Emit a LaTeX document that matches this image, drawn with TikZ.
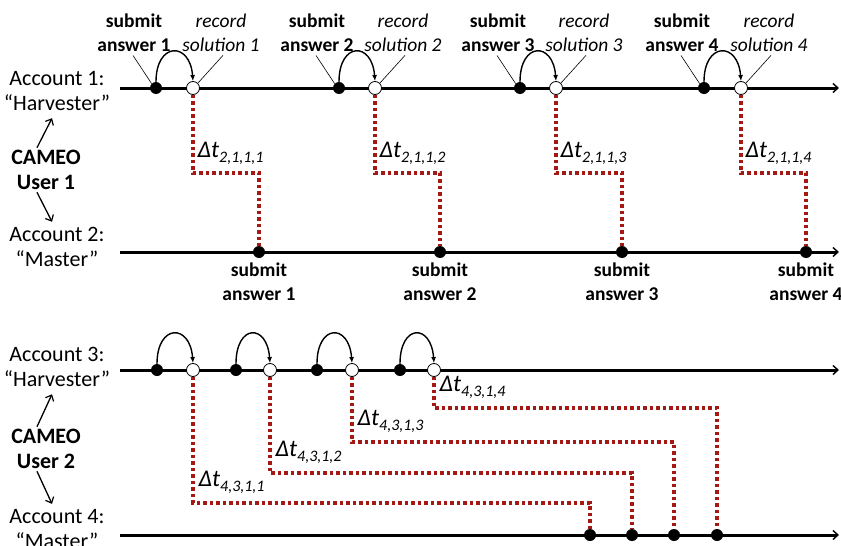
\documentclass[tikz,border=0pt]{standalone}
\usepackage{fontspec}
\setmainfont{Carlito}
\usepackage{tikz}
\usetikzlibrary{arrows.meta, positioning, calc}
\definecolor{delayred}{RGB}{165,25,20}
\tikzset{>=Latex}
\newcommand{\dlab}[1]{\textit{Δt}\raisebox{-5pt}{\fontsize{16}{16}\selectfont\textit{#1}}}

\begin{document}
\begin{tikzpicture}[x=1pt,y=-1pt,
    subdot/.style={circle,fill=black,inner sep=0pt,minimum size=12pt},
    recdot/.style={circle,draw=black,fill=white,line width=0.8pt,inner sep=0pt,minimum size=13pt},
    timeline/.style={line width=3pt,-{Straight Barb[length=5pt,width=9pt,line width=1.4pt]}},
    hop/.style={line width=1.4pt,-{Latex[length=6pt,width=5pt]}},
    pointer/.style={line width=0.6pt},
    delay/.style={draw=delayred,line width=3.5pt,dash pattern=on 3.5pt off 3pt},
    acclbl/.style={align=center,font=\fontsize{22}{25}\selectfont},
    evlbl/.style={align=center,font=\fontsize{19.5}{24}\selectfont},
    userarrow/.style={line width=1.3pt,-{Straight Barb[length=5pt,width=9pt,line width=1.2pt]}}]
    \useasboundingbox (0,0) rectangle (841,546);

    % time lines
    \foreach \n/\y in {1/88,2/252,3/370,4/535}{
        \coordinate (line\n a) at (120,\y);
        \coordinate (line\n b) at (839,\y);
        \draw[timeline] (line\n a) -- (line\n b);
    }

    % account labels
    \node[acclbl] (acc1) at (57,91) {Account 1:\\“Harvester”};
    \node[acclbl] (acc2) at (57,247) {Account 2:\\“Master”};
    \node[acclbl] (acc3) at (57,367) {Account 3:\\“Harvester”};
    \node[acclbl] (acc4) at (57,529) {Account 4:\\“Master”};
    \node[acclbl,font=\fontsize{22}{25}\selectfont\bfseries] (user1) at (46,170) {CAMEO\\User 1};
    \node[acclbl,font=\fontsize{22}{25}\selectfont\bfseries] (user2) at (46,449) {CAMEO\\User 2};
    \draw[userarrow] ([xshift=-9pt,yshift=-1pt]user1.north) -- ([xshift=-5pt,yshift=-4pt]acc1.south);
    \draw[userarrow] ([xshift=-9pt,yshift=1pt]user1.south) -- ([xshift=-5pt,yshift=2pt]acc2.north);
    \draw[userarrow] ([xshift=-9pt,yshift=-1pt]user2.north) -- ([xshift=-5pt,yshift=-4pt]acc3.south);
    \draw[userarrow] ([xshift=-9pt,yshift=1pt]user2.south) -- ([xshift=-5pt,yshift=2pt]acc4.north);

    % CAMEO user 1
    \foreach \i/\sx/\rx/\bx in {1/156/193/259,2/339/375/440,3/520/556/622,4/704/741/806}{
        \node[subdot] (s\i) at (\sx,88) {};
        \node[recdot] (r\i) at (\rx,88) {};
        \node[subdot] (b\i) at (\bx,252) {};
        \node[evlbl,font=\fontsize{19.5}{24}\selectfont\bfseries] (st\i) at (\sx-22,33) {submit\\answer \i};
        \node[evlbl,font=\fontsize{19.5}{24}\selectfont\itshape] (rt\i) at (\rx+28,33) {record\\solution \i};
        \node[evlbl,font=\fontsize{19.5}{24}\selectfont\bfseries] (bt\i) at (\bx,282) {submit\\answer \i};
        \draw[pointer] ([xshift=-1pt]st\i.south) -- (s\i.north west);
        \draw[pointer] ([xshift=2pt]rt\i.south) -- (r\i.north east);
        \draw[hop] (s\i.north) .. controls +(0,-40) and +(-3,-40) .. (r\i.north);
        \draw[delay] (r\i.south) |- (\bx,173) -- (b\i.north);
        \node[anchor=west,font=\fontsize{24}{24}\selectfont] (d\i) at (\rx+1,153) {\dlab{2,1,1,\i}};
    }

    % CAMEO user 2
    \foreach \i/\sx/\rx/\bx/\dy in {1/157/193/590/503,2/236/270/632/473,3/317/352/674/442,4/400/434/717/408}{
        \node[subdot] (u\i) at (\sx,370) {};
        \node[recdot] (v\i) at (\rx,370) {};
        \node[subdot] (m\i) at (\bx,535) {};
        \draw[hop] (u\i.north) .. controls +(0,-40) and +(-3,-40) .. (v\i.north);
        \draw[delay] (v\i.south) |- (\bx,\dy) -- (m\i.north);
        \node[anchor=west,font=\fontsize{24}{24}\selectfont] (e\i) at (\rx+2,\dy-21) {\dlab{4,3,1,\i}};
    }
\end{tikzpicture}
\end{document}
